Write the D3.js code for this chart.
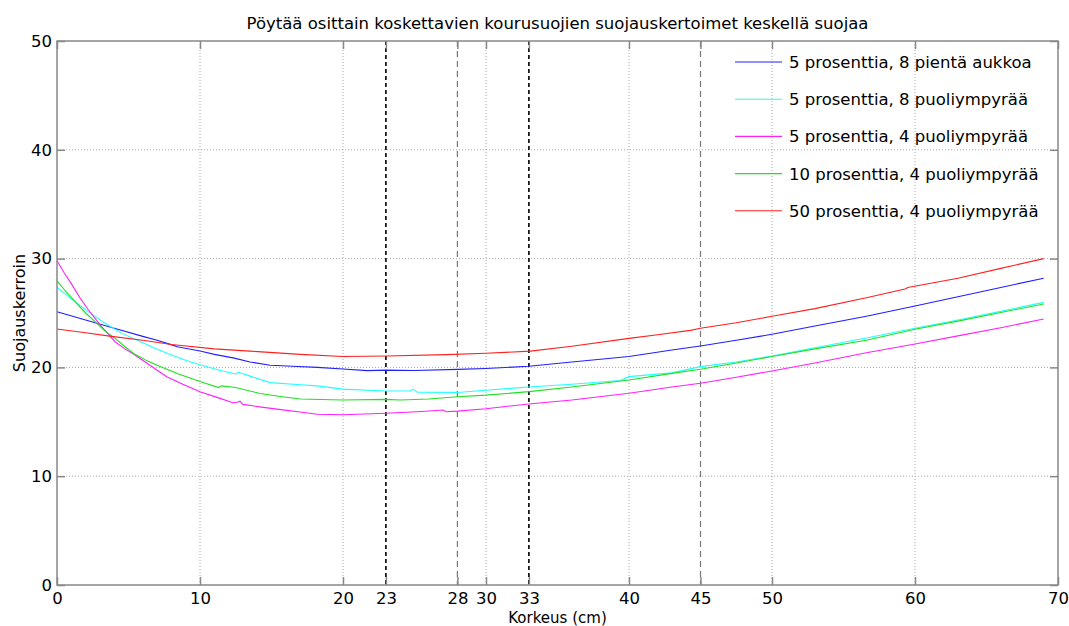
<!DOCTYPE html>
<html>
<head>
<meta charset="utf-8">
<script src="https://cdn.jsdelivr.net/npm/d3@7"></script>
<style>
  body { margin: 0; background: #fff; }
  text { font-family: "DejaVu Sans", sans-serif; fill: #000; }
</style>
</head>
<body>
<div id="chart-area"></div>
<script>
const WIDTH = 1069, HEIGHT = 626;
const FONT_SIZE = 16.5;
let margin = {top: 41, right: 11, bottom: 41, left: 57};

const TITLE = "Pöytää osittain koskettavien kourusuojien suojauskertoimet keskellä suojaa";
const X_LABEL = "Korkeus (cm)";
const Y_LABEL = "Suojauskerroin";

const xTicks = [0, 10, 20, 23, 28, 30, 33, 40, 45, 50, 60, 70];
const yTicks = [0, 10, 20, 30, 40, 50];
const gridX = [10, 20, 30, 40, 50, 60];
const gridY = [10, 20, 30, 40];
const markBlack = [23, 33];   // black dashed lines
const markGray = [28, 45];    // gray dashed lines

const seriesNames = [
  "5 prosenttia, 8 pientä aukkoa",
  "5 prosenttia, 8 puoliympyrää",
  "5 prosenttia, 4 puoliympyrää",
  "10 prosenttia, 4 puoliympyrää",
  "50 prosenttia, 4 puoliympyrää"
];
const seriesColors = ["#2020ff", "#20ffff", "#ff20ff", "#20e020", "#ff2020"];

// [korkeus, suojauskerroin]
const blue = [[0,25.12],[2,24.35],[4,23.6],[6,22.85],[7,22.5],[8.2,22.0],[8.4,21.9],[10,21.5],[11,21.2],
  [12.4,20.85],[13.5,20.5],[14.9,20.2],[16.5,20.1],[18.2,20.0],[20,19.85],[21.7,19.7],[23,19.75],[25,19.72],
  [28,19.82],[30,19.9],[33,20.1],[36,20.5],[40,21.0],[43,21.6],[45,21.97],[47.5,22.5],[50,23.04],[53,23.8],
  [56.6,24.7],[60,25.65],[63,26.5],[66,27.35],[69,28.2]];
const cyan = [[0,27.36],[1,26.3],[2.2,25.1],[3.3,24.1],[4.5,23.15],[5.7,22.45],[6.85,21.75],[8,21.14],
  [9,20.65],[10,20.25],[11.5,19.7],[12.5,19.4],[12.7,19.55],[13.5,19.2],[14.9,18.6],[16.5,18.45],[18.2,18.3],
  [20,18.0],[23,17.83],[24.7,17.83],[24.9,18.0],[25.2,17.72],[28,17.7],[30,17.9],[33,18.2],[36,18.45],
  [39.4,18.8],[40,19.15],[43,19.5],[45,20.07],[47.5,20.5],[50,21.05],[53,21.8],[56.6,22.7],[60,23.6],
  [63,24.35],[66,25.15],[69,25.98]];
const magenta = [[0,29.8],[0.5,28.7],[1,27.7],[1.6,26.4],[2.19,25.3],[2.6,24.6],[3.12,23.74],[4.06,22.36],
  [4.7,21.75],[5.45,21.14],[6.5,20.2],[7.67,19.15],[8.8,18.45],[10,17.77],[11.3,17.2],[12.3,16.75],[12.6,16.8],
  [12.8,16.9],[13,16.6],[14.3,16.35],[15.8,16.1],[17,15.9],[18.2,15.7],[20,15.65],[23,15.78],[25.5,15.95],
  [27,16.08],[27.2,15.93],[28,15.98],[30,16.2],[33,16.64],[36,17.0],[40,17.62],[43,18.2],[45,18.54],
  [47.5,19.1],[50,19.67],[53,20.4],[56.6,21.35],[60,22.15],[63,22.9],[66,23.65],[69,24.45]];
const green = [[0,27.95],[0.6,27.0],[1.26,26.04],[2,25.0],[2.66,24.2],[3.3,23.4],[4.06,22.67],[4.8,21.85],
  [5.45,21.2],[6.3,20.6],[7,20.2],[8.5,19.4],[10,18.7],[11.3,18.15],[11.5,18.3],[12.5,18.15],[14.2,17.6],
  [15.5,17.35],[17,17.1],[20,17.0],[23,17.06],[24,17.0],[26,17.1],[28,17.3],[30,17.45],[33,17.77],[36,18.2],
  [40,18.84],[43,19.45],[45,19.83],[47.5,20.4],[50,21.0],[53,21.7],[56.6,22.5],[60,23.5],[63,24.25],
  [66,25.05],[69,25.83]];
const red = [[0,23.53],[2,23.18],[3.8,22.85],[6,22.5],[8,22.1],[11,21.7],[13.5,21.5],[17,21.2],[20,21.0],
  [23,21.05],[27.25,21.17],[30,21.3],[33.1,21.5],[36,21.95],[40,22.67],[42,23.0],[44.3,23.4],[45,23.6],
  [47.5,24.1],[50,24.7],[53,25.4],[56.6,26.4],[59.3,27.2],[59.5,27.35],[63,28.2],[66,29.1],[69,30.0]];

const seriesData = [blue, cyan, magenta, green, red];

const svg = d3.select("#chart-area").append("svg")
    .attr("width", WIDTH)
    .attr("height", HEIGHT);

const x = d3.scaleLinear().domain([0, 70]).range([margin.left, WIDTH - margin.right]);
const y = d3.scaleLinear().domain([0, 50]).range([HEIGHT - margin.bottom, margin.top]);

const plotTop = y(50), plotBottom = y(0), plotLeft = x(0), plotRight = x(70);

// Grid (dotted)
svg.append("g").selectAll("line").data(gridX).join("line")
    .attr("x1", d => x(d)).attr("x2", d => x(d))
    .attr("y1", plotTop).attr("y2", plotBottom)
    .attr("stroke", "#aaa").attr("stroke-dasharray", "1,2");
svg.append("g").selectAll("line").data(gridY).join("line")
    .attr("x1", plotLeft).attr("x2", plotRight)
    .attr("y1", d => y(d)).attr("y2", d => y(d))
    .attr("stroke", "#aaa").attr("stroke-dasharray", "1,2");

// Marker lines
svg.append("g").selectAll("line").data(markGray).join("line")
    .attr("x1", d => x(d)).attr("x2", d => x(d))
    .attr("y1", plotTop).attr("y2", plotBottom)
    .attr("stroke", "#777").attr("stroke-width", 1.2).attr("stroke-dasharray", "6,4");
svg.append("g").selectAll("line").data(markBlack).join("line")
    .attr("x1", d => x(d)).attr("x2", d => x(d))
    .attr("y1", plotTop).attr("y2", plotBottom)
    .attr("stroke", "#000").attr("stroke-width", 1.6).attr("stroke-dasharray", "4,3");

// Curves
const line = d3.line().x(d => x(d[0])).y(d => y(d[1]));
svg.append("g").selectAll("path").data(seriesData).join("path")
    .attr("d", line)
    .attr("fill", "none")
    .attr("stroke", (d, i) => seriesColors[i])
    .attr("stroke-width", 1.1);

// Frame
svg.append("rect")
    .attr("x", plotLeft).attr("y", plotTop)
    .attr("width", plotRight - plotLeft).attr("height", plotBottom - plotTop)
    .attr("fill", "none").attr("stroke", "#888").attr("stroke-width", 1.5);

// Axes with inward ticks
const TICK = 8;
const xAxisB = d3.axisBottom(x).tickValues(xTicks).tickSize(-TICK).tickPadding(7.5).tickFormat(d3.format("d"));
const xAxisT = d3.axisTop(x).tickValues(xTicks).tickSize(-TICK).tickFormat("");
const yAxisL = d3.axisLeft(y).tickValues(yTicks).tickSize(-TICK).tickPadding(5).tickFormat(d3.format("d"));
const yAxisR = d3.axisRight(y).tickValues(yTicks).tickSize(-TICK).tickFormat("");

function styleAxis(g) {
  g.select(".domain").remove();
  g.selectAll(".tick line").attr("stroke", "#888").attr("stroke-width", 1.5);
  g.selectAll(".tick text").attr("font-size", `${FONT_SIZE}px`).attr("font-family", "DejaVu Sans, sans-serif").attr("fill", "#000");
}
svg.append("g").attr("transform", `translate(0,${plotBottom})`).call(xAxisB).call(styleAxis);
svg.append("g").attr("transform", `translate(0,${plotTop})`).call(xAxisT).call(styleAxis);
svg.append("g").attr("transform", `translate(${plotLeft},0)`).call(yAxisL).call(styleAxis);
svg.append("g").attr("transform", `translate(${plotRight},0)`).call(yAxisR).call(styleAxis);

// Title and labels
svg.append("text")
    .attr("x", (plotLeft + plotRight) / 2).attr("y", 29)
    .attr("text-anchor", "middle").attr("font-size", `${FONT_SIZE}px`)
    .text(TITLE);
svg.append("text")
    .attr("x", (plotLeft + plotRight) / 2).attr("y", 622.5)
    .attr("text-anchor", "middle").attr("font-size", "15px")
    .text(X_LABEL);
svg.append("text")
    .attr("transform", `translate(25,${(plotTop + plotBottom) / 2}) rotate(-90)`)
    .attr("text-anchor", "middle").attr("font-size", "16px")
    .text(Y_LABEL);

// Legend (no box)
const legend = svg.append("g").selectAll("g").data(seriesNames).join("g")
    .attr("transform", (d, i) => `translate(735,${62 + i * 37.2})`);
legend.append("line")
    .attr("x1", 0).attr("x2", 47).attr("y1", 0).attr("y2", 0)
    .attr("stroke", (d, i) => seriesColors[i]).attr("stroke-width", 1.1);
legend.append("text")
    .attr("x", 54).attr("dy", "0.36em")
    .attr("font-size", `${FONT_SIZE}px`)
    .text(d => d);
</script>
</body>
</html>
